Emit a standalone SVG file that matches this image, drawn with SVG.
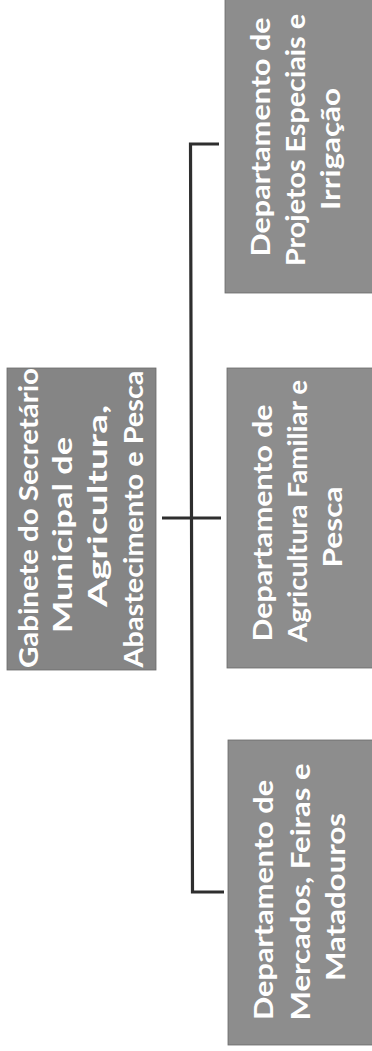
<svg xmlns="http://www.w3.org/2000/svg" width="372" height="1051" viewBox="0 0 372 1051">
<style>
.box{fill:#8d8d8d;stroke:#6a6a6a;stroke-width:0.8}
.dark{fill:#858585}
.t{font-family:Lato,"Open Sans","Liberation Sans",sans-serif;font-weight:bold;font-size:27px;fill:#ffffff;text-anchor:middle}
.ln{stroke:#2e2e2e;stroke-width:3.2;fill:none}
</style>
<rect width="372" height="1051" fill="#ffffff"/>
<g id="connectors">
<path class="ln" d="M219 144 H190.5 L192.5 892 H224"/>
<path class="ln" d="M162 518 H221"/>
</g>
<g id="gabinete">
<rect class="box dark" x="7" y="368" width="149" height="302"/>
<text class="t" transform="translate(38,518) rotate(-90)" textLength="300" lengthAdjust="spacingAndGlyphs">Gabinete do Secretário</text>
<text class="t" transform="translate(72,535) rotate(-90)" textLength="196" lengthAdjust="spacingAndGlyphs">Municipal de</text>
<text class="t" transform="translate(107,506) rotate(-90)" textLength="202" lengthAdjust="spacingAndGlyphs">Agricultura,</text>
<text class="t" transform="translate(143,519) rotate(-90)" textLength="297" lengthAdjust="spacingAndGlyphs">Abastecimento e Pesca</text>
</g>
<g id="dep-projetos">
<rect class="box" x="225" y="-2" width="150" height="295"/>
<text class="t" transform="translate(270,137) rotate(-90)" textLength="239" lengthAdjust="spacingAndGlyphs">Departamento de</text>
<text class="t" transform="translate(305,140) rotate(-90)" textLength="252" lengthAdjust="spacingAndGlyphs">Projetos Especiais e</text>
<text class="t" transform="translate(340,149) rotate(-90)" textLength="122" lengthAdjust="spacingAndGlyphs">Irrigação</text>
</g>
<g id="dep-agricultura">
<rect class="box" x="227" y="368" width="148" height="300"/>
<text class="t" transform="translate(272,523) rotate(-90)" textLength="237" lengthAdjust="spacingAndGlyphs">Departamento de</text>
<text class="t" transform="translate(307,511) rotate(-90)" textLength="262" lengthAdjust="spacingAndGlyphs">Agricultura Familiar e</text>
<text class="t" transform="translate(342,527) rotate(-90)" textLength="81" lengthAdjust="spacingAndGlyphs">Pesca</text>
</g>
<g id="dep-mercados">
<rect class="box" x="228" y="740" width="147" height="305"/>
<text class="t" transform="translate(273,900) rotate(-90)" textLength="240" lengthAdjust="spacingAndGlyphs">Departamento de</text>
<text class="t" transform="translate(310,892) rotate(-90)" textLength="257" lengthAdjust="spacingAndGlyphs">Mercados, Feiras e</text>
<text class="t" transform="translate(345,897) rotate(-90)" textLength="168" lengthAdjust="spacingAndGlyphs">Matadouros</text>
</g>
</svg>
